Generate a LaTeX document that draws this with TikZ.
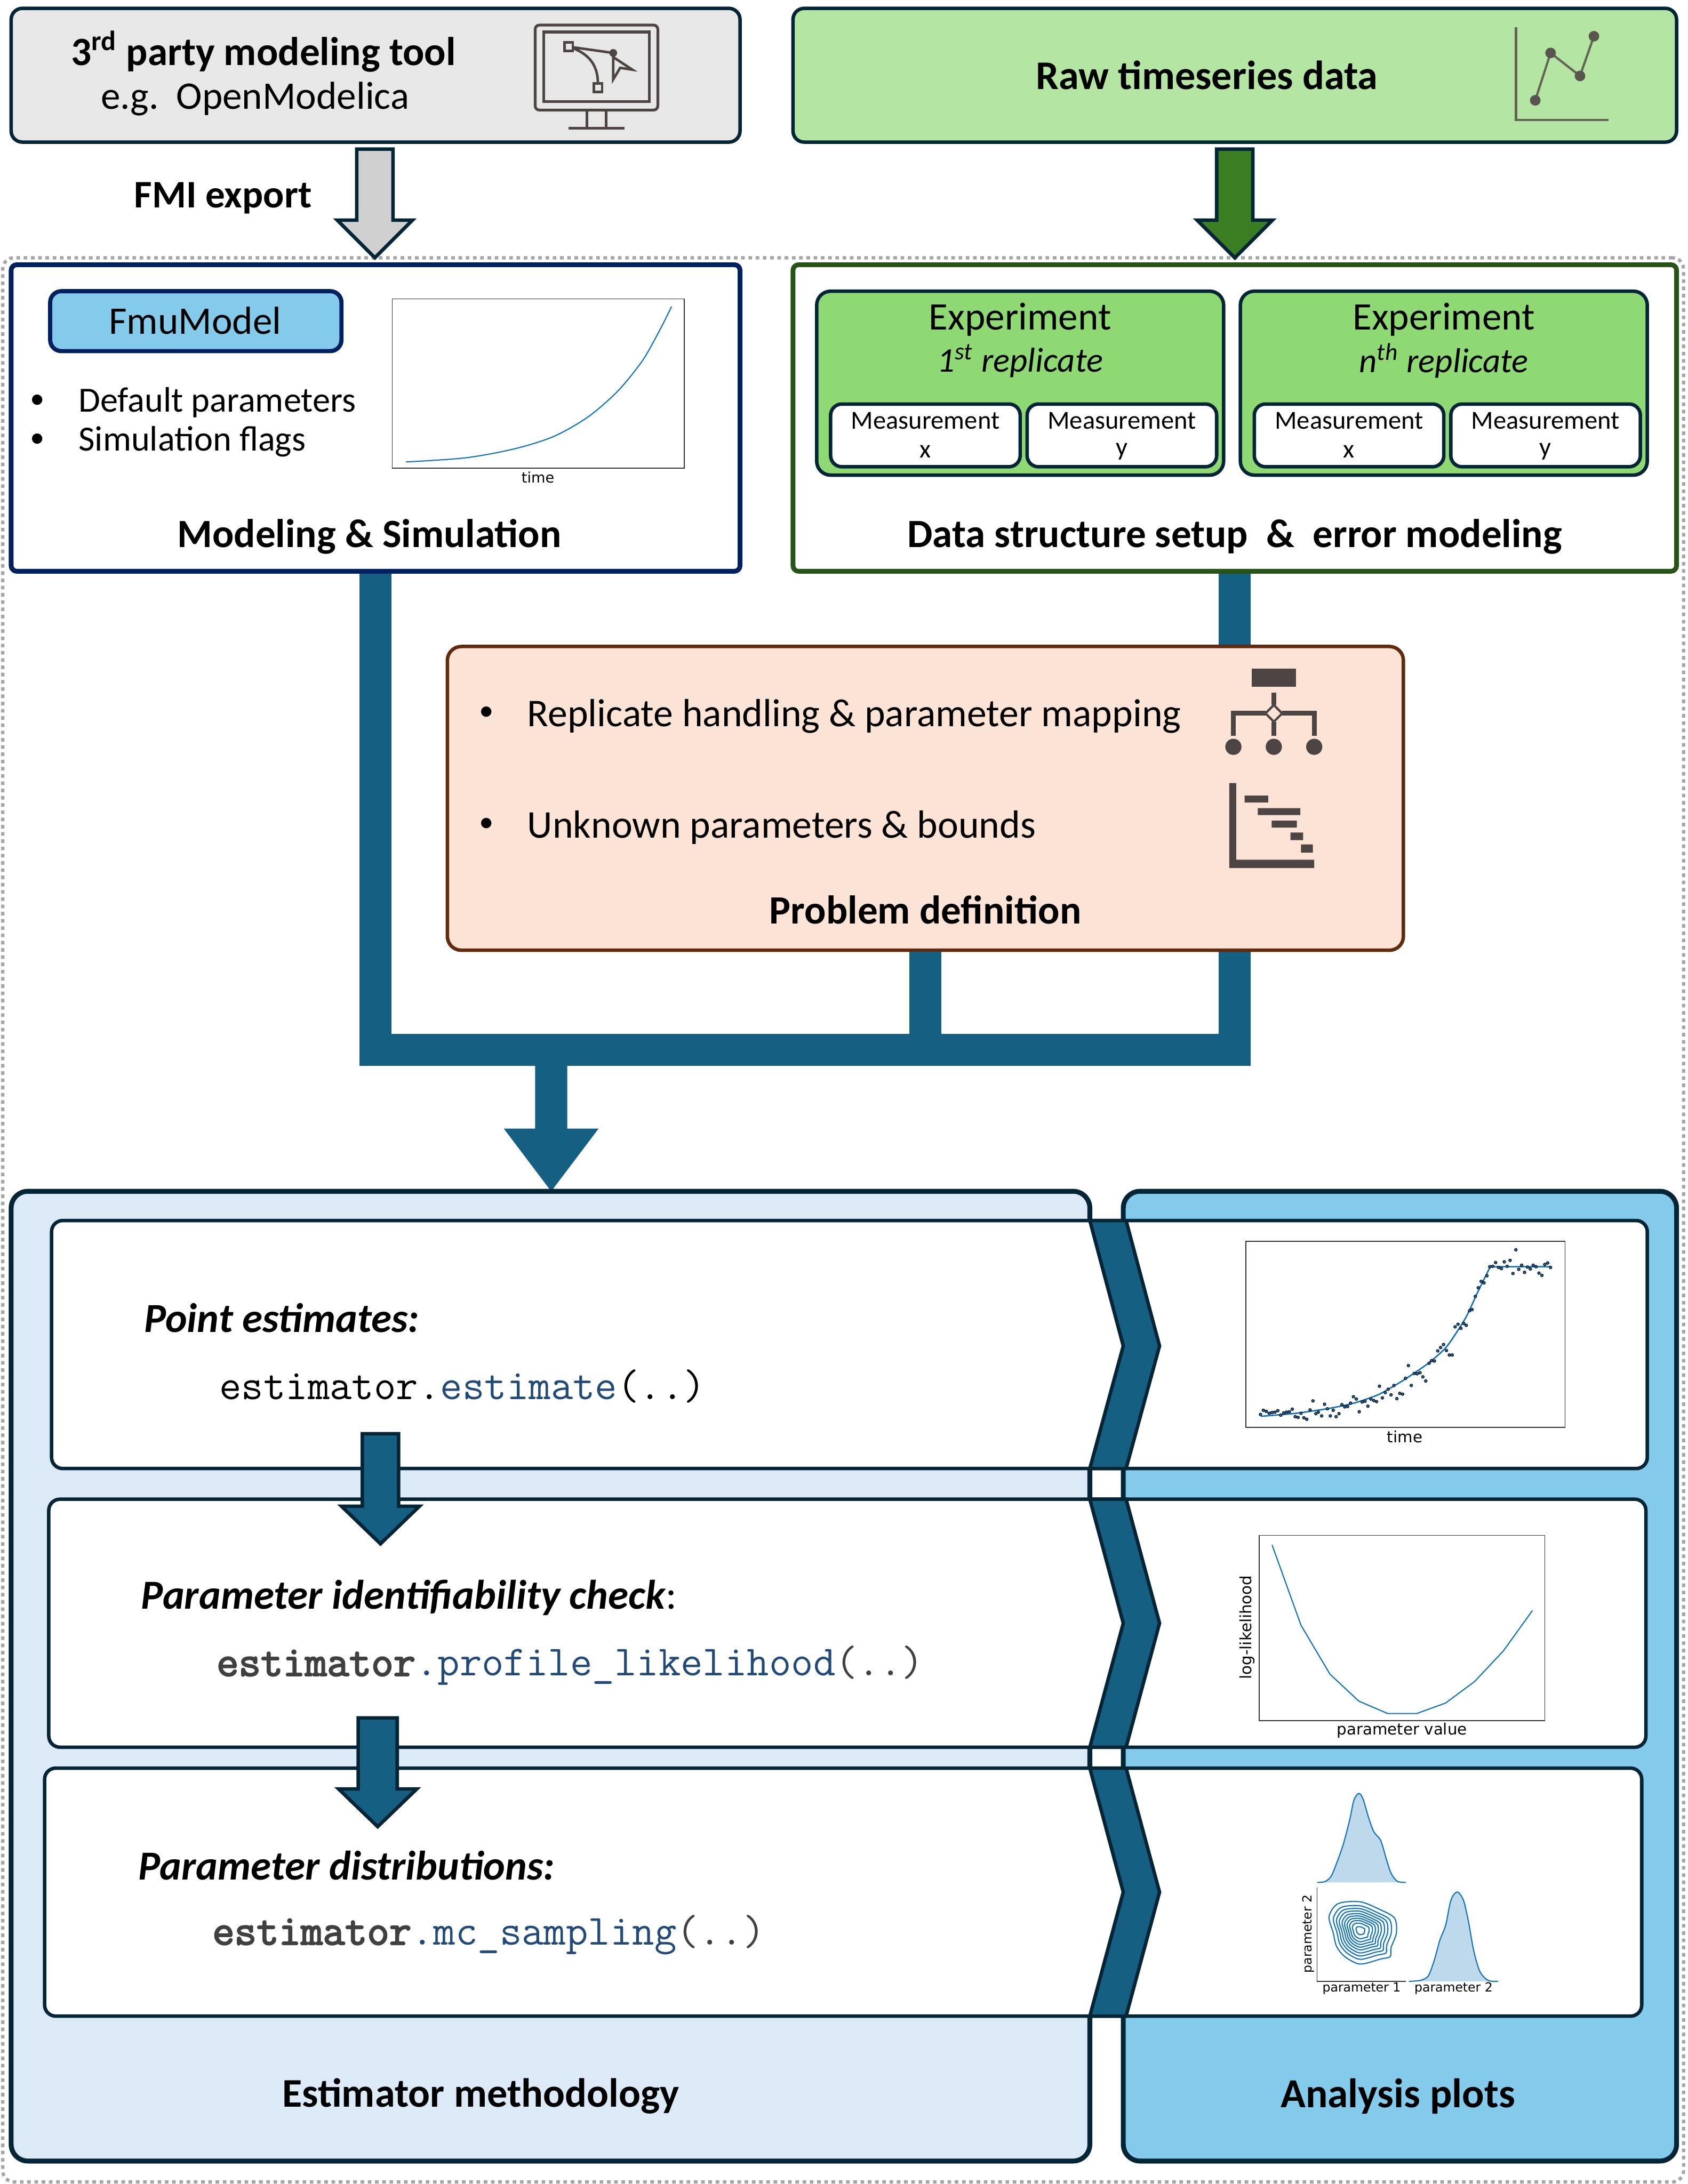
\documentclass[tikz,border=0pt]{standalone}
\usepackage{fontspec}
\setmainfont{Carlito}
\newfontfamily\plotfont{DejaVu Sans}
\newfontfamily\codebold[FakeBold=3]{Latin Modern Mono}
\usetikzlibrary{
  calc,
  fit
}
\definecolor{inkdark}{RGB}{3,37,54}
\definecolor{toolgray}{RGB}{231,231,231}
\definecolor{arrowgray}{RGB}{208,208,208}
\definecolor{rawgreen}{RGB}{180,229,162}
\definecolor{expgreen}{RGB}{142,217,115}
\definecolor{deepgreen}{RGB}{59,125,35}
\definecolor{simnavy}{RGB}{0,32,96}
\definecolor{setupgreen}{RGB}{39,83,23}
\definecolor{skyblue}{RGB}{131,202,235}
\definecolor{paleblue}{RGB}{220,233,246}
\definecolor{busteal}{RGB}{21,96,130}
\definecolor{probpeach}{RGB}{251,227,214}
\definecolor{probbrown}{RGB}{97,44,14}
\definecolor{icongray}{RGB}{77,69,67}
\definecolor{framegray}{RGB}{166,166,166}
\definecolor{codeblue}{RGB}{33,74,120}
\definecolor{codegray}{RGB}{64,64,64}
\definecolor{plotblue}{RGB}{15,113,184}
\definecolor{kdeblue}{RGB}{190,216,236}
\newcommand{\bodysize}{\fontsize{14}{16}\selectfont}
\newcommand{\headsize}{\fontsize{14.4}{17}\selectfont\bfseries}
\tikzset{
  panel/.style={draw=inkdark, line width=1.25pt, rounded corners=4pt, inner sep=0pt, fit={#1}},
  headtext/.style={font=\headsize, inner sep=0pt},
  bodytext/.style={font=\bodysize, inner sep=0pt},
  bullettext/.style={font=\bodysize, inner sep=0pt, anchor=west},
  bulletmark/.style={font=\fontsize{10.5}{11}\selectfont, inner sep=0pt},
  meastext/.style={font=\fontsize{9.3}{11}\selectfont, inner sep=0pt},
  steptext/.style={font=\fontsize{14.8}{17}\selectfont\bfseries\itshape, inner sep=0pt, anchor=west},
  codetext/.style={font=\fontsize{15.4}{17}\selectfont\ttfamily, inner sep=0pt, anchor=west},
  plottext/.style={font=\fontsize{5.6}{6}\selectfont\plotfont, inner sep=0pt},
  cornertext/.style={font=\fontsize{4.5}{5}\selectfont\plotfont, inner sep=0pt},
  plotframe/.style={draw=black!80, line width=0.3pt},
  plotline/.style={draw=plotblue, line width=0.4pt},
  busline/.style={draw=busteal, line width=11.5pt},
  blockarrow/.style n args={3}{to path={let \p1=(\tikztostart), \p2=(\tikztotarget) in
    (\x1-#1,\y1) -- (\x1-#1,\y2+#3) -- (\x1-#2,\y2+#3) -- (\x2,\y2) -- (\x1+#2,\y2+#3) -- (\x1+#1,\y2+#3) -- (\x1+#1,\y1) -- cycle}},
  chevron/.style={draw=inkdark, line width=1.25pt, fill=busteal, line join=miter}
}

\begin{document}
\begin{tikzpicture}[x=0.5pt, y=-0.5pt]
  \useasboundingbox (0,0) rectangle (1211,1567.5);

  % Dotted frame
  \node[panel={(2,185) (1208,1566)}, draw=framegray, line width=1.2pt, dash pattern=on 1.3pt off 1.3pt] (mainframe) {};

  % Top sources
  \node[panel={(8,6) (531,102)}, fill=toolgray] (toolbox) {};
  \node[panel={(569,6) (1203,102)}, fill=rawgreen] (rawbox) {};
  \node[headtext] (tooltitle) at (189,37) {3\textsuperscript{rd} party modeling tool};
  \node[bodytext] (toolhint) at (183,71) {e.g.\ \ OpenModelica};
  \node[headtext, font=\fontsize{14.6}{17}\selectfont\bfseries] (rawtitle) at (866,54) {Raw timeseries data};
  \node[headtext, font=\fontsize{14}{17}\selectfont\bfseries] (fmilabel) at (160,142) {FMI export};

  % Monitor icon
  \draw[icongray, line width=1pt, rounded corners=1.5pt] (384,18) rectangle (472,79);
  \draw[icongray, line width=1pt] (390,23) rectangle (466,73);
  \draw[icongray, line width=1pt] (421,79) -- (421,92) (435,79) -- (435,92) (408,92) -- (448,92);
  \draw[icongray, line width=0.9pt] (408,33.5) -- (440,38) (408,33.5) .. controls (422,38) and (429,46) .. (429,60);
  \draw[icongray, line width=0.9pt, fill=toolgray] (405,30.5) rectangle (411,36.5) (426,60) rectangle (432,66);
  \fill[icongray] (440,38) circle (1.4pt);
  \draw[icongray, line width=0.9pt] (440,41) -- (453.7,50) -- (445,48.7) -- (440,57) -- cycle;

  % Chart icon
  \draw[icongray!80!rawgreen, line width=0.8pt] (1087.8,19.5) -- (1087.8,86) -- (1154,86);
  \draw[icongray!80!rawgreen, line width=0.8pt] (1101.6,72) -- (1112.6,38) -- (1133.7,54.5) -- (1143.7,26);
  \foreach \cx/\cy in {1101.6/72,1112.6/38,1133.7/54.5,1143.7/26}
    \fill[icongray!90!rawgreen] (\cx,\cy) circle (1.9pt);

  % Model and data panels
  \node[panel={(8,190) (531,410)}, draw=simnavy, line width=1.7pt, rounded corners=2pt, fill=white] (modbox) {};
  \node[panel={(569,190) (1203,410)}, draw=setupgreen, line width=1.7pt, rounded corners=2pt, fill=white] (databox) {};
  \node[panel={(36,209) (245,252)}, draw=simnavy, line width=1.5pt, fill=skyblue] (fmubox) {};
  \node[bodytext] (fmutitle) at (140,230) {FmuModel};
  \node[bulletmark] (modbulleta) at (27,288) {•};
  \node[bullettext, font=\fontsize{12.7}{15}\selectfont] (modtexta) at (56,289) {Default parameters};
  \node[bulletmark] (modbulletb) at (27,316) {•};
  \node[bullettext, font=\fontsize{12.7}{15}\selectfont] (modtextb) at (56,317) {Simulation flags};
  \node[headtext] (modtitle) at (265,385) {Modeling \& Simulation};
  \node[headtext] (datatitle) at (886,385) {Data structure setup\ \ \&\ \ error modeling};

  % Simulation plot
  \draw[plotframe] (281.5,214.5) rectangle (491,336);
  \begin{scope}[x=0.17585pt, y=-0.135pt]
    \draw[plotline] plot[smooth] coordinates {(828,1228) (950,1217) (1050,1193) (1130,1160) (1200,1108) (1260,1040) (1310,960) (1345,880) (1370,815)};
  \end{scope}
  \node[plottext, font=\fontsize{5.2}{6}\selectfont\plotfont] (simtime) at (386,342.5) {time};

  % Experiments
  \foreach \ename/\ex/\eord in {first/732/{1\textsuperscript{st}}, last/1036/{n\textsuperscript{th}}} {
    \node[panel={(\ex-146,209) (\ex+146,341)}, fill=expgreen, rounded corners=5pt] (\ename box) {};
    \node[bodytext] (\ename title) at (\ex,229.5) {Experiment};
    \node[bodytext, font=\fontsize{12.4}{14}\selectfont\itshape] (\ename rep) at (\ex,259) {\eord\ replicate};
    \node[panel={(\ex-136,290) (\ex,335)}, fill=white] (\ename boxx) {};
    \node[panel={(\ex+5,290) (\ex+141,335)}, fill=white] (\ename boxy) {};
    \node[meastext] (\ename measx) at (\ex-68,302) {Measurement};
    \node[meastext] (\ename labx) at (\ex-68,324) {x};
    \node[meastext] (\ename measy) at (\ex+73,302) {Measurement};
    \node[meastext] (\ename laby) at (\ex+73,324) {y};
  }

  % Source arrows
  \coordinate (fmistart) at (269,107);
  \coordinate (fmitip) at (269,185);
  \coordinate (rawstart) at (886,107);
  \coordinate (rawtip) at (886,185);
  \draw[blockarrow={6.5pt}{13.5pt}{13.5pt}, draw=inkdark, line width=1.25pt, fill=arrowgray] (fmistart) to (fmitip);
  \draw[blockarrow={6.5pt}{13.5pt}{13.5pt}, draw=inkdark, line width=1.25pt, fill=deepgreen] (rawstart) to (rawtip);

  % Bus
  \coordinate (busleft) at (269.5,753.5);
  \coordinate (busmid) at (664,753.5);
  \coordinate (busright) at (886,753.5);
  \coordinate (bustap) at (395.5,753);
  \coordinate (bustip) at (395.5,855);
  \draw[busline] (busleft |- modbox.south) -- (busleft) -- (busright) -- (busright |- databox.south);
  \draw[blockarrow={5.75pt}{17pt}{22.5pt}, draw=none, fill=busteal] (bustap) to (bustip);

  % Problem definition
  \node[panel={(321,464) (1007,682)}, draw=probbrown, fill=probpeach, rounded corners=5pt] (probbox) {};
  \draw[busline] (busmid |- probbox.south) -- (busmid);
  \node[bulletmark] (probbulleta) at (349,512) {•};
  \node[bullettext, font=\fontsize{14.1}{16}\selectfont] (probtexta) at (378,514) {Replicate handling \& parameter mapping};
  \node[bulletmark] (probbulletb) at (349,592) {•};
  \node[bullettext, font=\fontsize{14.1}{16}\selectfont] (probtextb) at (378,594) {Unknown parameters \& bounds};
  \node[headtext] (probtitle) at (664,653) {Problem definition};

  % Hierarchy icon
  \fill[icongray] (898,480) rectangle (930,493);
  \draw[icongray, line width=1.7pt] (885,528) -- (885,512) -- (908,512) (920,512) -- (943,512) -- (943,528);
  \draw[icongray, line width=1.7pt] (914,497) -- (914,506) (914,518) -- (914,528);
  \draw[icongray, line width=0.8pt] (914,506) -- (920,512) -- (914,518) -- (908,512) -- cycle;
  \foreach \cx in {885,914,943}
    \fill[icongray] (\cx,536) circle (2.9pt);

  % Range icon
  \fill[icongray] (882,562) rectangle (887,617) (882,617) rectangle (943,623);
  \fill[icongray] (893,571) rectangle (910,576) (902.5,580) rectangle (933,585) (912.5,589) rectangle (930.5,594) (926,597.5) rectangle (935,603) (933.5,606) rectangle (942,612);

  % Bottom panels
  \node[panel={(8,855) (782,1551)}, line width=1.75pt, rounded corners=6pt, fill=paleblue] (estbox) {};
  \node[panel={(806,855) (1203,1551)}, line width=1.75pt, rounded corners=6pt, fill=skyblue] (plotbox) {};
  \node[headtext, font=\fontsize{14.6}{17}\selectfont\bfseries] (esttitle) at (345,1504.5) {Estimator methodology};
  \node[headtext, font=\fontsize{14.8}{17}\selectfont\bfseries] (plottitle) at (1003,1504.5) {Analysis plots};

  % Rows
  \node[panel={(37,876) (1182,1054)}, fill=white] (pointrow) {};
  \node[panel={(35,1076) (1181,1254)}, fill=white] (identrow) {};
  \node[panel={(32,1269) (1178,1447)}, fill=white] (distrow) {};
  \foreach \ytop/\ymid/\ybot in {876/966/1054,1076/1165/1254,1269/1358/1447}
    \draw[chevron] (782,\ytop) -- (808,\ytop) -- (832,\ymid) -- (808,\ybot) -- (782,\ybot) -- (806,\ymid) -- cycle;

  % Row arrows
  \coordinate (pointstart) at (273,1029);
  \coordinate (pointtip) at (273,1108);
  \coordinate (identstart) at (271,1233);
  \coordinate (identtip) at (271,1311);
  \draw[blockarrow={6.5pt}{14pt}{13.5pt}, draw=inkdark, line width=1.25pt, fill=busteal] (pointstart) to (pointtip);
  \draw[blockarrow={7pt}{14pt}{13.5pt}, draw=inkdark, line width=1.25pt, fill=busteal] (identstart) to (identtip);

  % Row texts
  \node[steptext] (pointhead) at (103,946) {Point estimates:};
  \node[codetext] (pointcode) at (157,995) {estimator.{\color{codeblue}estimate}(..)};
  \node[steptext] (identhead) at (101,1146.5) {Parameter identifiability check\textnormal{:}};
  \node[codetext, text=codegray] (identcode) at (155,1195.5) {{\codebold estimator}{\color{codeblue}.profile\_likelihood}(..)};
  \node[steptext] (disthead) at (99,1339) {Parameter distributions:};
  \node[codetext, text=codegray] (distcode) at (152,1388.5) {{\codebold estimator}{\color{codeblue}.mc\_sampling}(..)};

  % Fit plot
  \draw[plotframe] (894,891) rectangle (1123,1024.5);
  \begin{scope}[shift={(746.1,843.6)}, x=0.14825pt, y=-0.13485pt]
    \draw[plotline, line width=0.5pt] plot[smooth, tension=0.4] coordinates {(535,641) (620,633) (700,620) (760,606) (820,583) (880,545) (940,500) (985,455) (1030,380) (1060,310) (1090,243)} -- (1237,243);
    \foreach \px/\py in {534/636,541/625,548/628,555/633,562/631,569/630,576/626,583/638,590/632,597/630,604/629,611/622,618/642,625/644,632/633,639/645,646/649,654/624,661/600,668/634,674/630,682/640,689/609,696/621,703/640,710/625,717/642,724/634,731/610,738/616,745/615,752/606,759/589,766/595,773/629,780/603,787/601,794/614,801/595,808/599,815/602,822/561,829/592,836/578,843/569,850/584,857/559,864/594,871/580,878/582,885/540,892/506,899/559,906/527,913/528,920/525,927/536,934/547,942/500,948/493,955/494,963/467,970/458,977/450,984/466,991/478,998/478,1005/403,1012/396,1019/407,1026/394,1032/399,1040/360,1046/357,1054/322,1061/299,1068/282,1075/286,1082/267,1089/243,1096/242,1103/232,1110/245,1117/248,1124/230,1131/242,1138/226,1145/261,1152/198,1159/250,1166/239,1173/258,1180/244,1187/249,1194/239,1201/243,1208/260,1215/266,1222/237,1229/233,1236/245}
      \filldraw[fill=plotblue, draw=black, line width=0.2pt] (\px,\py) circle (0.5pt);
  \end{scope}
  \node[plottext] (fittime) at (1008,1031) {time};

  % Likelihood plot
  \draw[plotframe] (903.5,1102) rectangle (1108.5,1235);
  \begin{scope}[shift={(746.1,843.6)}, x=0.14825pt, y=-0.13485pt]
    \draw[plotline] (562,983) -- (632,1197) -- (702,1327) -- (772,1399) -- (842,1432) -- (912,1432) -- (982,1404) -- (1052,1347) -- (1122,1265) -- (1192,1158);
  \end{scope}
  \node[plottext] (likex) at (1006,1242) {parameter value};
  \node[plottext, rotate=90] (likey) at (895,1168) {log-likelihood};

  % Corner plot
  \begin{scope}[shift={(746.1,1233.3)}, x=0.14825pt, y=-0.10685pt]
    \draw[plotline, fill=kdeblue] plot[smooth] coordinates {(671,551) (690,548) (705,530) (720,480) (735,420) (750,340) (760,275) (772,252) (782,270) (795,330) (808,380) (825,410) (838,470) (850,520) (865,547) (886,551)};
    \draw[plotline, fill=kdeblue] plot[smooth] coordinates {(893,883) (920,880) (940,865) (955,810) (968,745) (982,695) (995,610) (1010,583) (1025,610) (1037,680) (1050,780) (1065,850) (1085,880) (1109,883)};
    \draw[plotframe] (671,568) -- (671,883) -- (886,883);
    \foreach \s in {1,0.86,0.76,0.67,0.58,0.5,0.42,0.34,0.25,0.13}
      \draw[plotline, shift={(775,712)}, scale=\s] plot[smooth cycle] coordinates {(-75,-47) (-53,-90) (0,-96) (45,-72) (83,-42) (88,8) (75,58) (73,88) (50,96) (0,113) (-37,88) (-57,53) (-65,8)};
  \end{scope}
  \node[cornertext] (cornerxa) at (977,1427) {parameter 1};
  \node[cornertext] (cornerxb) at (1043,1427) {parameter 2};
  \node[cornertext, rotate=90] (cornery) at (939,1388) {parameter 2};
\end{tikzpicture}
\end{document}
